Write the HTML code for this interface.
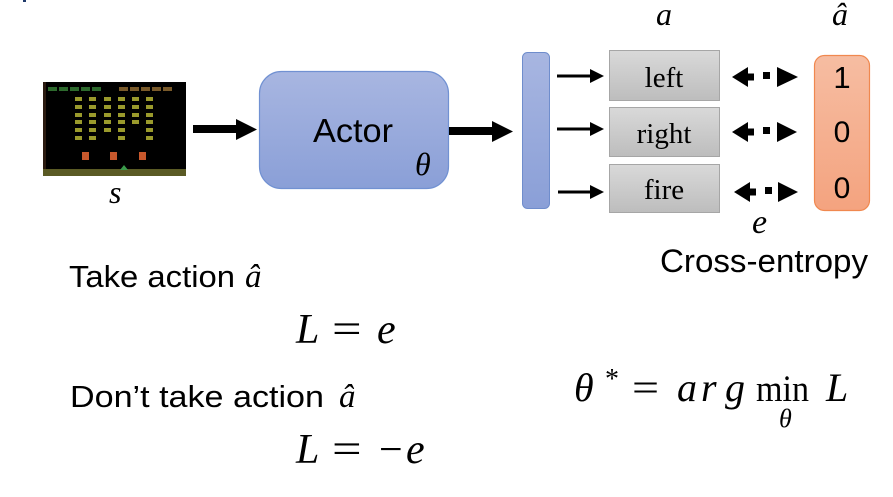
<!DOCTYPE html>
<html><head><meta charset="utf-8"><style>
html,body{margin:0;padding:0;background:#fff;}
svg{display:block;}
.sans{font-family:"Liberation Sans",Arial,sans-serif;}
.serif{font-family:"Liberation Serif","Times New Roman",serif;}
.it{font-family:"Liberation Serif","Times New Roman",serif;font-style:italic;}
</style></head><body>
<svg width="893" height="497" viewBox="0 0 893 497" xmlns="http://www.w3.org/2000/svg">
<defs>
<linearGradient id="gb" x1="0" y1="0" x2="0" y2="1"><stop offset="0" stop-color="#a8b6e1"/><stop offset="1" stop-color="#8a9fd7"/></linearGradient>
<linearGradient id="gg" x1="0" y1="0" x2="0" y2="1"><stop offset="0" stop-color="#d9d9d9"/><stop offset="1" stop-color="#bdbdbd"/></linearGradient>
<linearGradient id="go" x1="0" y1="0" x2="0" y2="1"><stop offset="0" stop-color="#f6bda2"/><stop offset="1" stop-color="#f4a37f"/></linearGradient>
</defs>
<rect x="23" y="0" width="3" height="2" fill="#1f3a6a"/>

<!-- game image -->
<rect x="43" y="82" width="143" height="94" fill="#000"/>
<rect x="43" y="82" width="3" height="94" fill="#2a1a10"/>
<g fill="#2d6a2d">
<rect x="48" y="87" width="9" height="4"/><rect x="59" y="87" width="9" height="4"/><rect x="70" y="87" width="9" height="4"/><rect x="81" y="87" width="9" height="4"/><rect x="92" y="87" width="9" height="4"/>
</g>
<g fill="#7a5a2a">
<rect x="119" y="87" width="9" height="4"/><rect x="130" y="87" width="9" height="4"/><rect x="141" y="87" width="9" height="4"/><rect x="152" y="87" width="9" height="4"/><rect x="163" y="87" width="9" height="4"/>
</g>
<g fill="#9a9a2c">
<rect x="75" y="97" width="7" height="4"/><rect x="89" y="97" width="7" height="4"/><rect x="104" y="97" width="7" height="4"/><rect x="118" y="97" width="7" height="4"/><rect x="132" y="97" width="7" height="4"/><rect x="146" y="97" width="7" height="4"/>
<rect x="75" y="105" width="7" height="4"/><rect x="89" y="105" width="7" height="4"/><rect x="104" y="105" width="7" height="4"/><rect x="118" y="105" width="7" height="4"/><rect x="132" y="105" width="7" height="4"/><rect x="146" y="105" width="7" height="4"/>
<rect x="75" y="113" width="7" height="4"/><rect x="89" y="113" width="7" height="4"/><rect x="104" y="113" width="7" height="4"/><rect x="118" y="113" width="7" height="4"/><rect x="132" y="113" width="7" height="4"/><rect x="146" y="113" width="7" height="4"/>
<rect x="75" y="120" width="7" height="4"/><rect x="89" y="120" width="7" height="4"/><rect x="104" y="120" width="7" height="4"/><rect x="118" y="120" width="7" height="4"/><rect x="132" y="120" width="7" height="4"/><rect x="146" y="120" width="7" height="4"/>
<rect x="75" y="128" width="7" height="4"/><rect x="89" y="128" width="7" height="4"/><rect x="104" y="128" width="7" height="4"/><rect x="118" y="128" width="7" height="4"/><rect x="146" y="128" width="7" height="4"/>
<rect x="75" y="136" width="7" height="4"/><rect x="89" y="136" width="7" height="4"/><rect x="118" y="136" width="7" height="4"/><rect x="146" y="136" width="7" height="4"/>
</g>
<g fill="#c8582c">
<rect x="82" y="152" width="7" height="8"/><rect x="110" y="152" width="7" height="8"/><rect x="139" y="152" width="7" height="8"/>
</g>
<rect x="43" y="169" width="143" height="7" fill="#5a5a24"/>
<polygon points="120,170 124,165 128,170" fill="#3a9a4a"/>
<text class="it" x="109" y="203" font-size="32">s</text>

<!-- arrow 1 -->
<rect x="193" y="125" width="45" height="8" fill="#000"/>
<polygon points="236,119 257,129.5 236,140" fill="#000"/>

<!-- actor -->
<rect x="259.5" y="71.5" width="189" height="117" rx="22" fill="url(#gb)" stroke="#7191d2" stroke-width="1.2"/>
<text class="sans" x="313" y="142" font-size="33" textLength="80" lengthAdjust="spacingAndGlyphs">Actor</text>
<text class="it" x="415" y="175" font-size="32">θ</text>

<!-- arrow 2 -->
<rect x="449" y="127" width="45" height="8" fill="#000"/>
<polygon points="492,121 513,131.5 492,142" fill="#000"/>

<!-- vertical bar -->
<rect x="522.5" y="52.5" width="27" height="156" rx="5" fill="url(#gb)" stroke="#6f8dcc" stroke-width="1"/>

<!-- small arrows -->
<g fill="#000">
<rect x="557" y="74.5" width="35" height="3"/><polygon points="590,69 604,76 590,83"/>
<rect x="557" y="127.5" width="35" height="3"/><polygon points="590,122 604,129 590,136"/>
<rect x="558" y="190.5" width="34" height="3"/><polygon points="590,185 604,192 590,199"/>
</g>

<!-- gray boxes -->
<rect x="609.5" y="50.5" width="110" height="50" fill="url(#gg)" stroke="#a6a6a6"/>
<rect x="609.5" y="107.5" width="110" height="49" fill="url(#gg)" stroke="#a6a6a6"/>
<rect x="609.5" y="164.5" width="110" height="48" fill="url(#gg)" stroke="#a6a6a6"/>
<text class="serif" x="664" y="87" font-size="29" text-anchor="middle">left</text>
<text class="serif" x="664" y="143" font-size="29" text-anchor="middle">right</text>
<text class="serif" x="664" y="199" font-size="29" text-anchor="middle">fire</text>

<!-- double arrows -->
<g fill="#000">
<polygon points="732,77 748,67 748,87"/><rect x="747" y="73.5" width="7" height="7"/><rect x="763" y="72" width="7" height="7"/><polygon points="777,67 798,77 777,87"/>
<polygon points="732,132 748,122 748,142"/><rect x="747" y="128.5" width="7" height="7"/><rect x="763" y="127" width="7" height="7"/><polygon points="777,122 797,132 777,142"/>
<polygon points="734,192 750,182 750,202"/><rect x="749" y="188.5" width="7" height="7"/><rect x="765" y="187" width="7" height="7"/><polygon points="778,182 798,192 778,202"/>
</g>

<!-- orange box -->
<rect x="814.5" y="55.5" width="55" height="155" rx="10" fill="url(#go)" stroke="#f0884f" stroke-width="1.2"/>
<text class="sans" x="842" y="88" font-size="31" text-anchor="middle">1</text>
<text class="sans" x="842" y="142" font-size="30" text-anchor="middle">0</text>
<text class="sans" x="842" y="198" font-size="30" text-anchor="middle">0</text>

<!-- labels -->
<text class="it" x="656" y="25" font-size="32">a</text>
<text class="it" x="832" y="25" font-size="32">â</text>
<text class="it" x="752" y="233" font-size="34">e</text>
<text class="sans" x="660" y="272" font-size="32" textLength="208" lengthAdjust="spacingAndGlyphs">Cross-entropy</text>

<!-- bottom left -->
<text class="sans" x="69" y="287" font-size="31" textLength="166" lengthAdjust="spacingAndGlyphs">Take action</text>
<text class="it" x="245" y="287" font-size="33">â</text>
<text class="it" x="296" y="343" font-size="42">L</text>
<text class="serif" font-size="42" transform="translate(332,343) scale(1.25,1)">=</text>
<text class="it" x="377" y="343" font-size="42">e</text>

<text class="sans" x="70" y="407" font-size="31" textLength="254" lengthAdjust="spacingAndGlyphs">Don’t take action</text>
<text class="it" x="339" y="407" font-size="33">â</text>
<text class="it" x="296" y="463" font-size="42">L</text>
<text class="serif" font-size="42" transform="translate(332,463) scale(1.25,1)">=</text>
<text class="serif" x="379" y="463" font-size="42">−</text>
<text class="it" x="406" y="463" font-size="42">e</text>

<!-- argmin -->
<text class="it" x="574" y="401" font-size="40">θ</text>
<text class="serif" x="605" y="388" font-size="28">*</text>
<text class="serif" font-size="40" transform="translate(632,401) scale(1.2,1)">=</text>
<text class="it" x="677" y="401" font-size="40">a</text>
<text class="it" x="701" y="401" font-size="40">r</text>
<text class="it" x="725" y="401" font-size="40">g</text>
<text class="serif" x="756" y="401" font-size="37" textLength="53" lengthAdjust="spacingAndGlyphs">min</text>
<text class="it" x="779" y="427" font-size="26">θ</text>
<text class="it" x="826" y="401" font-size="40">L</text>
</svg>
</body></html>
